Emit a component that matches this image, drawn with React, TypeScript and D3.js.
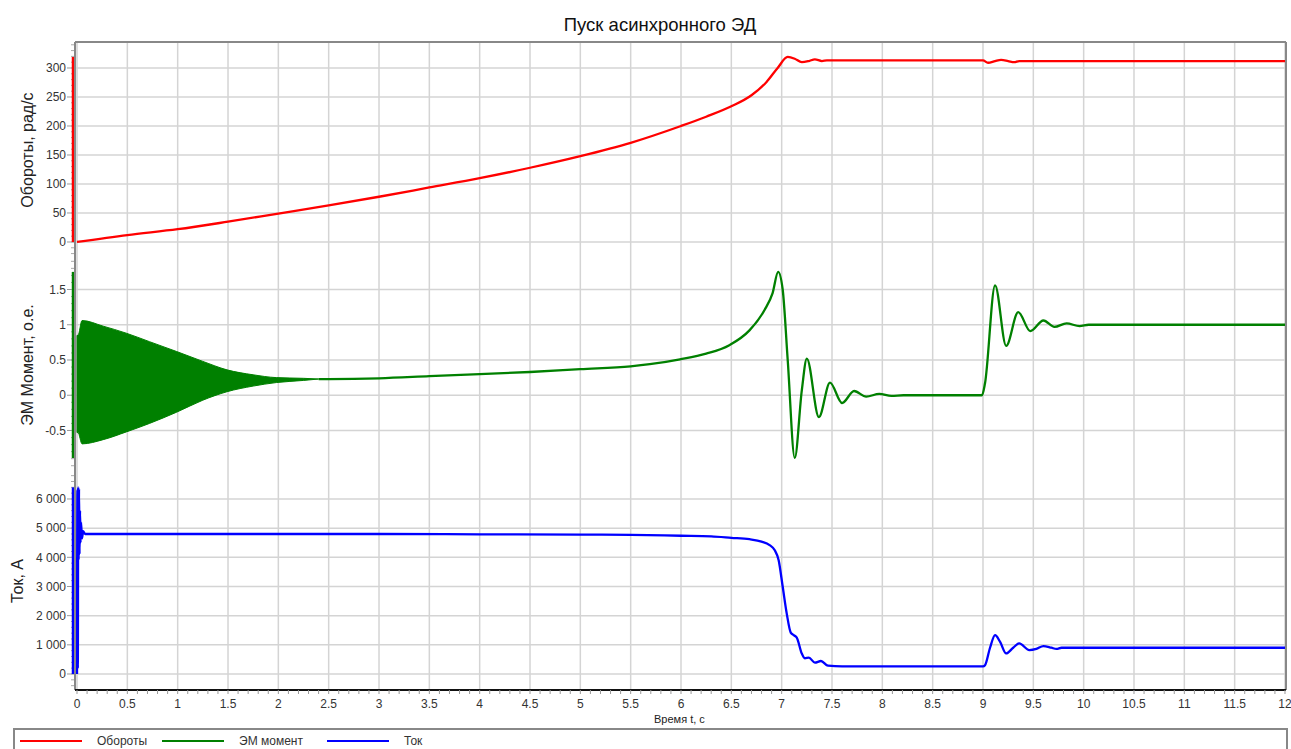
import * as d3 from "d3";

// time axis, seconds
const timeTicks = [0, 0.5, 1, 1.5, 2, 2.5, 3, 3.5, 4, 4.5, 5, 5.5, 6, 6.5, 7, 7.5, 8, 8.5, 9, 9.5, 10, 10.5, 11, 11.5, 12];

// Обороты, рад/с
const speedT = [0, 0.5, 1, 1.5, 2, 2.5, 3, 3.5, 4, 4.5, 5, 5.5, 6, 6.25, 6.5, 6.7, 6.85, 6.96, 7.06, 7.13, 7.2, 7.27, 7.33, 7.4, 7.45, 7.6, 9.0, 9.05, 9.12, 9.18, 9.25, 9.31, 9.36, 12];
const speedV = [0, 12, 22, 35, 49, 63, 78, 94, 110, 128, 148, 171, 200, 216, 234, 253, 276, 300, 319, 316, 310, 312, 315, 312, 313, 313, 313, 309, 312, 314, 312, 310, 312, 312];
const speedTicks = [0, 50, 100, 150, 200, 250, 300];

// ЭМ момент, о.е. - envelope of the fast oscillation at start
const envT = [0, 0.01, 0.05, 0.26, 0.49, 0.72, 0.99, 1.25, 1.49, 1.75, 1.98, 2.25, 2.4];
const envHi = [0.85, 0.85, 1.06, 0.98, 0.88, 0.76, 0.62, 0.48, 0.36, 0.29, 0.25, 0.24, 0.23];
const envLo = [-0.53, -0.53, -0.69, -0.63, -0.52, -0.4, -0.24, -0.07, 0.05, 0.13, 0.18, 0.21, 0.23];
// ЭМ момент after the oscillation decays
const torqueT = [2.4, 2.5, 3, 3.5, 4, 4.5, 5, 5.5, 5.69, 5.99, 6.25, 6.48, 6.68, 6.83, 6.91, 6.965, 7.01, 7.06, 7.13, 7.2, 7.25, 7.37, 7.48, 7.6, 7.72, 7.84, 7.97, 8.09, 8.21, 8.99, 9.02, 9.12, 9.23, 9.35, 9.47, 9.6, 9.71, 9.83, 9.96, 10.05, 12];
const torqueV = [0.23, 0.23, 0.24, 0.27, 0.3, 0.33, 0.37, 0.41, 0.44, 0.51, 0.59, 0.71, 0.92, 1.21, 1.45, 1.75, 1.5, 0.5, -0.89, 0.07, 0.52, -0.31, 0.18, -0.11, 0.06, -0.02, 0.02, -0.01, 0, 0, 0.17, 1.56, 0.7, 1.18, 0.91, 1.06, 0.97, 1.02, 0.98, 1.0, 1.0];
const torqueTicks = [-0.5, 0, 0.5, 1, 1.5];

// Ток, А
const currentT = [0, 0.004, 0.008, 0.012, 0.016, 0.02, 0.025, 0.03, 0.035, 0.04, 0.05, 0.06, 0.08, 1, 2, 3, 4, 5, 5.5, 6, 6.3, 6.5, 6.68, 6.8, 6.88, 6.93, 6.97, 7.01, 7.05, 7.09, 7.12, 7.15, 7.2, 7.23, 7.27, 7.33, 7.39, 7.46, 7.6, 9.0, 9.02, 9.07, 9.12, 9.17, 9.23, 9.3, 9.36, 9.46, 9.53, 9.6, 9.68, 9.73, 9.78, 12];
const currentV = [0, 6300, 200, 6400, 3900, 6350, 4100, 5600, 4500, 5200, 4650, 4900, 4800, 4800, 4800, 4800, 4790, 4780, 4770, 4740, 4720, 4670, 4620, 4540, 4420, 4250, 3900, 3000, 2080, 1420, 1330, 1250, 700, 540, 560, 390, 445, 285, 260, 260, 300, 900, 1330, 1100, 705, 900, 1050, 820, 860, 957, 900, 860, 900, 900];
const currentTicks = [0, 1000, 2000, 3000, 4000, 5000, 6000];

const W = 1291;
const H = 749;
const left = 75;
const right = 1286;
const top = 42;
const bottom = 690;
const font = "'Liberation Sans', Arial, sans-serif";
const tickColor = "#333";
const gridColor = "#d4d4d4";

const x = d3.scaleLinear().domain([-0.02, 12.01]).range([left, right]);

const zip = (t: number[], v: number[]) => t.map((d, i) => [d, v[i]] as [number, number]);

const panels = [
  {
    label: "Обороты, рад/с",
    labelX: 27,
    color: "#ff0000",
    y: d3.scaleLinear().domain([-27.6, 344.8]).range([258, top]),
    ticks: speedTicks,
    minor: 10,
    fmt: (d: number) => String(d),
    data: zip(speedT, speedV),
  },
  {
    label: "ЭМ Момент, о.е.",
    labelX: 27,
    color: "#008000",
    y: d3.scaleLinear().domain([-1.089, 1.947]).range([472, 258]),
    ticks: torqueTicks,
    minor: 0.1,
    fmt: (d: number) => String(d),
    data: zip(torqueT, torqueV),
  },
  {
    label: "Ток, А",
    labelX: 17,
    color: "#0000ff",
    y: d3.scaleLinear().domain([-548.6, 6925]).range([bottom, 472]),
    ticks: currentTicks,
    minor: 200,
    fmt: (d: number) => d3.format(",")(d).replace(/,/g, " "),
    data: zip(currentT, currentV),
  },
];

const legendItems = [
  { name: "Обороты", color: "#ff0000", x: 20 },
  { name: "ЭМ момент", color: "#008000", x: 162 },
  { name: "Ток", color: "#0000ff", x: 327 },
];

export default function App() {
  const minorX = d3.range(0, 120.5, 1).map((d) => d / 10);
  const torquePanel = panels[1];
  const envArea = d3
    .area<number>()
    .x((_, i) => x(envT[i]))
    .y0((_, i) => torquePanel.y(envLo[i]))
    .y1((_, i) => torquePanel.y(envHi[i]))
    .curve(d3.curveMonotoneX);

  return (
    <svg
      width={W}
      height={H}
      style={{ position: "absolute", left: 0, top: 0, background: "#fff" }}
      fontFamily={font}
    >
      <text x={660} y={31} textAnchor="middle" fontSize={18.5} fill="#111">
        Пуск асинхронного ЭД
      </text>

      {/* vertical grid */}
      {timeTicks.map((t) => (
        <line key={"vg" + t} x1={x(t)} x2={x(t)} y1={top} y2={bottom} stroke={gridColor} strokeWidth={1.5} />
      ))}

      {panels.map((p, pi) => {
        const [lo, hi] = p.y.domain();
        const minors = d3.range(Math.ceil(lo / p.minor), Math.floor(hi / p.minor) + 1).map((k) => k * p.minor);
        const line = d3
          .line<[number, number]>()
          .x((d) => x(d[0]))
          .y((d) => p.y(d[1]))
          .curve(d3.curveMonotoneX);
        const ext = d3.extent(p.data, (d) => d[1]) as [number, number];
        const cy = (p.y.range()[0] + p.y.range()[1]) / 2;
        return (
          <g key={"p" + pi}>
            {p.ticks.map((v) => (
              <g key={v}>
                <line x1={left} x2={right} y1={p.y(v)} y2={p.y(v)} stroke={gridColor} strokeWidth={1.5} />
                <line x1={left - 8} x2={left} y1={p.y(v)} y2={p.y(v)} stroke="#999" strokeWidth={1} />
                <text x={left - 9} y={p.y(v)} dy="0.35em" textAnchor="end" fontSize={12} fill={tickColor}>
                  {p.fmt(v)}
                </text>
              </g>
            ))}
            {minors.map((v) => (
              <line key={"m" + v} x1={left - 4} x2={left} y1={p.y(v)} y2={p.y(v)} stroke="#aaa" strokeWidth={1} />
            ))}
            <text
              transform={`translate(${p.labelX},${cy}) rotate(-90)`}
              textAnchor="middle"
              dy="0.35em"
              fontSize={16}
              fill="#222"
            >
              {p.label}
            </text>
            {pi === 1 && <path d={envArea(envT) || ""} fill={p.color} stroke={p.color} strokeWidth={1} />}
            <path d={line(p.data) || ""} fill="none" stroke={p.color} strokeWidth={2.3} strokeLinejoin="round" />
            <line x1={left - 2} x2={left - 2} y1={p.y(ext[0])} y2={p.y(ext[1])} stroke={p.color} strokeWidth={2.5} />
          </g>
        );
      })}

      {/* frame */}
      <line x1={left} x2={right} y1={top} y2={top} stroke="#888" strokeWidth={2} />
      <line x1={left} x2={left} y1={top} y2={bottom} stroke="#888" strokeWidth={2} />
      <line x1={right} x2={right} y1={top} y2={bottom} stroke="#888" strokeWidth={2} />
      <line x1={left} x2={right} y1={bottom} y2={bottom} stroke="#111" strokeWidth={2} />

      {/* x axis */}
      {minorX.map((t) => (
        <line key={"mx" + t} x1={x(t)} x2={x(t)} y1={bottom} y2={bottom + 4} stroke="#999" strokeWidth={1} />
      ))}
      {timeTicks.map((t) => (
        <text key={"xt" + t} x={x(t)} y={708} textAnchor="middle" fontSize={12} fill={tickColor}>
          {String(t)}
        </text>
      ))}
      <text x={654} y={723} fontSize={11} fill="#222">
        Время t, с
      </text>

      {/* legend */}
      <rect x={14} y={729} width={1273} height={30} fill="#fff" stroke="#888" strokeWidth={2} />
      {legendItems.map((l) => (
        <g key={l.name}>
          <line x1={l.x} x2={l.x + 62} y1={741} y2={741} stroke={l.color} strokeWidth={2} />
          <text x={l.x + 77} y={745} fontSize={12} fill="#333">
            {l.name}
          </text>
        </g>
      ))}
    </svg>
  );
}
